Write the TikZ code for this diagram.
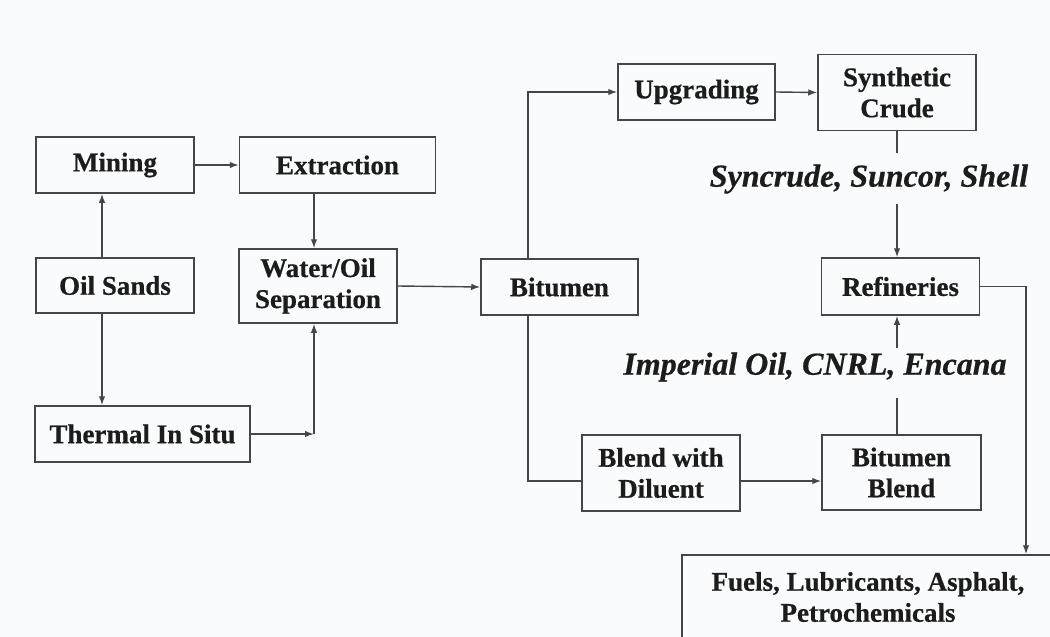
\documentclass[tikz,border=0pt]{standalone}
\usepackage{fontspec}
\setmainfont{Liberation Serif}[BoldFeatures={FakeBold=0.6},BoldItalicFeatures={FakeBold=0.6}]
\usetikzlibrary{arrows.meta}
\definecolor{bg}{RGB}{249,251,252}
\definecolor{ln}{RGB}{70,70,70}
\definecolor{tx}{RGB}{28,28,28}
\tikzset{
  box/.style={draw=ln, line width=1.5pt, inner sep=0pt, text=tx, align=center,
    font=\fontsize{27}{31}\selectfont\bfseries},
  lbl/.style={inner sep=0pt, text=tx, font=\fontsize{32}{36}\selectfont\bfseries\itshape},
  conn/.style={draw=ln, line width=1.4pt},
  arr/.style={conn, -{Latex[length=9pt,width=6.5pt]}}
}
\begin{document}
\begin{tikzpicture}[x=1pt,y=-1pt]
\useasboundingbox (0,0) rectangle (1050,637);
\fill[bg] (0,0) rectangle (1050,637);
\clip (0,0) rectangle (1050,637);
% nodes
\node[box, minimum width=158pt, minimum height=56pt] (mining) at (115,165) {Mining};
\node[box, minimum width=196pt, minimum height=56pt] (extraction) at (337.5,165) {Extraction};
\node[box, minimum width=158pt, minimum height=55pt] (oilsands) at (115,285.5) {Oil Sands};
\node[box, minimum width=158pt, minimum height=74pt] (water) at (318,286) {Water/Oil\\Separation};
\node[box, minimum width=215pt, minimum height=56pt] (thermal) at (142.5,434) {Thermal In Situ};
\node[box, minimum width=157pt, minimum height=56pt] (bitumen) at (559.5,287) {Bitumen};
\node[box, minimum width=157pt, minimum height=56pt] (upgrading) at (696.5,92) {Upgrading};
\node[box, minimum width=158pt, minimum height=76pt] (synthetic) at (897,92.5) {Synthetic\\Crude};
\node[box, minimum width=158pt, minimum height=57pt] (refineries) at (900.5,286.5) {Refineries};
\node[box, minimum width=158pt, minimum height=76pt] (blenddil) at (661,473) {Blend with\\Diluent};
\node[box, minimum width=159pt, minimum height=75pt] (bitblend) at (901.5,472.5) {Bitumen\\Blend};
\node[box, minimum width=372pt, minimum height=84pt] (fuels) at (868,597) {Fuels, Lubricants, Asphalt,\\Petrochemicals};
\node[lbl] (synlbl) at (869,179) {Syncrude, Suncor, Shell};
\node[lbl] (implbl) at (815,367) {Imperial Oil, CNRL, Encana};
% coordinates
\coordinate (s1) at (897,153);
\coordinate (s2) at (897,204);
\coordinate (i1) at (897,398);
\coordinate (i2) at (897,348);
\coordinate (t1) at (314,434);
% connectors
\draw[arr] ([xshift=-13pt]oilsands.north) -- ([xshift=-13pt]mining.south);
\draw[arr] ([xshift=-13pt]oilsands.south) -- ([xshift=-13pt]thermal.north -| mining.south) ;
\draw[arr] (mining.east) -- (extraction.west);
\draw[arr] ([xshift=-4pt]water.north |- extraction.south) -- ([xshift=-4pt]water.north);
\draw[arr] (thermal.east) -- (t1);
\draw[arr] (t1) -- (t1 |- water.south);
\draw[arr] (water.east) -- (bitumen.west);
\draw[arr] ([xshift=-31.5pt]bitumen.north) |- (upgrading.west);
\draw[arr] (upgrading.east) -- (synthetic.west);
\draw[conn] ([xshift=-31.5pt]bitumen.south) |- ([yshift=-8pt]blenddil.west);
\draw[arr] ([yshift=-8pt]blenddil.east) -- ([yshift=-8pt]blenddil.east -| bitblend.west);
\draw[conn] (synthetic.south) -- (s1);
\draw[arr] (s2) -- (s2 |- refineries.north);
\draw[conn] (i1 |- bitblend.north) -- (i1);
\draw[arr] (i2) -- (i2 |- refineries.south);
\draw[arr] (refineries.east) -| ([xshift=158pt]fuels.north);
\end{tikzpicture}
\end{document}
